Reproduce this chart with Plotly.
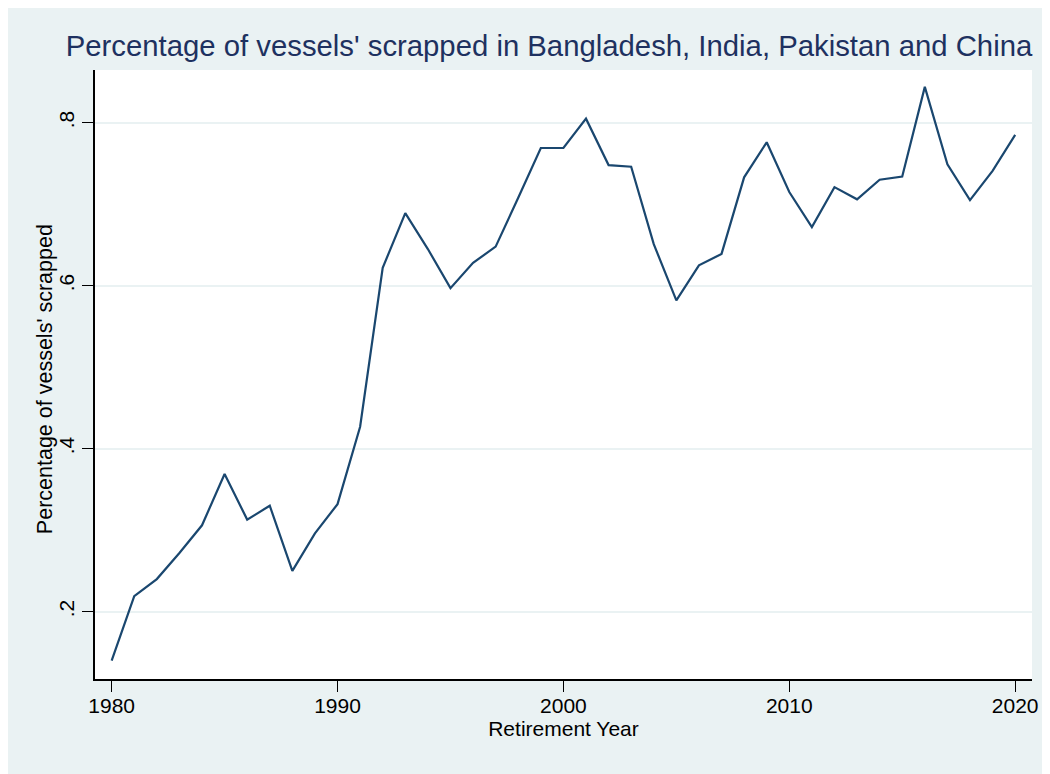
import plotly.graph_objects as go

years = list(range(1980, 2021))
share_scrapped = [
    0.140, 0.219, 0.240, 0.272, 0.306, 0.369, 0.313, 0.330, 0.250, 0.296,
    0.332, 0.427, 0.622, 0.689, 0.645, 0.597, 0.628, 0.648, 0.708, 0.769,
    0.769, 0.805, 0.748, 0.746, 0.651, 0.582, 0.625, 0.639, 0.733, 0.776,
    0.715, 0.672, 0.721, 0.706, 0.730, 0.734, 0.844, 0.749, 0.705, 0.741,
    0.785,
]
x_ticks = [1980, 1990, 2000, 2010, 2020]
y_ticks = [0.2, 0.4, 0.6, 0.8]
y_tick_labels = [".2", ".4", ".6", ".8"]

title_text = "Percentage of vessels' scrapped in Bangladesh, India, Pakistan and China"
x_title = "Retirement Year"
y_title = "Percentage of vessels' scrapped"

BG = "#EAF2F3"
LINE = "#1a476f"
FONT = "Liberation Sans, Arial, sans-serif"

# page has an 8px body margin; figure coordinates are screen - 8
W, H = 1042, 766
L, R, T, B = 87, 1027, 62, 671

fig = go.Figure()
fig.add_trace(go.Scatter(
    x=years, y=share_scrapped, mode="lines",
    line=dict(color=LINE, width=2.2), showlegend=False,
))

fig.add_annotation(
    text=y_title, textangle=-90, showarrow=False,
    xref="paper", yref="paper",
    x=(37 - L) / (R - L), y=(B - 371) / (B - T),
    xanchor="center", yanchor="middle",
    font=dict(size=21.5, family=FONT, color="black"),
)

fig.update_layout(
    width=W, height=H,
    margin=dict(l=L, r=W - R, t=T, b=H - B, pad=0),
    paper_bgcolor=BG, plot_bgcolor="white",
    font=dict(family=FONT, color="black", size=21),
    title=dict(text=title_text, x=541 / W, xanchor="center",
               y=1 - 38 / H, yanchor="middle", yref="container",
               font=dict(size=29.3, color="#1e3160", family=FONT)),
)
fig.update_xaxes(
    range=[1979.263, 2020.745], tickvals=x_ticks,
    ticks="outside", ticklen=11, tickwidth=1.3, tickcolor="black",
    showline=True, linecolor="black", linewidth=1.5,
    showgrid=False, zeroline=False, ticklabelstandoff=-4,
    tickfont=dict(size=21, family=FONT, color="black"),
    title=dict(text=x_title, standoff=3,
               font=dict(size=21, family=FONT, color="black")),
)
fig.update_yaxes(
    range=[0.1174, 0.8647], tickvals=y_ticks, ticktext=y_tick_labels,
    tickangle=-90,
    ticks="outside", ticklen=11, tickwidth=1.3, tickcolor="black",
    showline=True, linecolor="black", linewidth=1.5,
    showgrid=True, gridcolor=BG, gridwidth=2, zeroline=False,
    tickfont=dict(size=21, family=FONT, color="black"),
)

fig.write_html("out.html")
